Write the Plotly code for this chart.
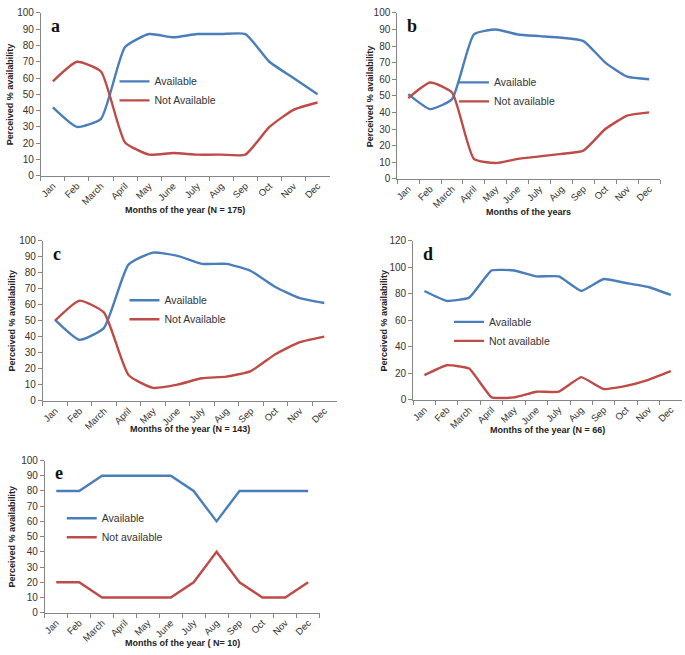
import plotly.graph_objects as go

months = ["Jan", "Feb", "March", "April", "May", "June", "July", "Aug", "Sep", "Oct", "Nov", "Dec"]

a_avail = [42, 30, 35, 79, 87, 85, 87, 87, 87, 70, 60, 50]
a_not = [58, 70, 64, 20.5, 13, 14, 13, 13, 13, 30, 40.5, 45]

b_avail = [51, 42, 48, 87, 90, 87, 86, 85, 83, 70, 61.5, 60]
b_not = [48.6, 58, 52, 12, 9.5, 12, 13.5, 15, 17, 30, 38, 40]

c_avail = [50.5, 38, 45.5, 85, 92.5, 90.5, 85.5, 85.5, 81, 71, 64, 61]
c_not = [50, 62.5, 55, 16, 8, 10, 14, 15, 18.5, 29, 36.5, 40]

d_avail = [82, 74.5, 77, 97.5, 97.5, 93, 93, 82, 91, 88, 85, 79]
d_not = [18.5, 26, 23.5, 1.7, 1.7, 6, 6, 17, 8, 10.4, 15, 21.5]

e_avail = [80, 80, 90, 90, 90, 90, 80, 60, 80, 80, 80, 80]
e_not = [20, 20, 10, 10, 10, 10, 20, 40, 20, 10, 10, 20]

W, H = 685, 655
BLUE = "#4a7ebb"
RED = "#be4b48"

panels = [
    dict(label="a", avail=a_avail, notv=a_not, names=("Available", "Not Available"),
         xt="Months of the year (N = 175)", ymax=100, dt=10,
         box=(38, 328, 7, 173), leg=(112, 62), shape="spline", sm=0.5, xtitle_y=208, ytitle_x=7),
    dict(label="b", avail=b_avail, notv=b_not, names=("Available", "Not available"),
         xt="Months of the years", ymax=100, dt=10,
         box=(396, 660, 7, 176), leg=(453, 63), shape="spline", sm=0.5, xtitle_y=210, ytitle_x=368),
    dict(label="c", avail=c_avail, notv=c_not, names=("Available", "Not Available"),
         xt="Months of the year (N = 143)", ymax=100, dt=10,
         box=(40, 335, 239, 402), leg=(122, 285), shape="spline", sm=0.5, xtitle_y=431, ytitle_x=9),
    dict(label="d", avail=d_avail, notv=d_not, names=("Available", "Not available"),
         xt="Months of the year (N = 66)", ymax=120, dt=20,
         box=(412, 682, 239, 401), leg=(448, 307), shape="spline", sm=0.35, xtitle_y=432, ytitle_x=383),
    dict(label="e", avail=e_avail, notv=e_not, names=("Available", "Not available"),
         xt="Months of the year ( N= 10)", ymax=100, dt=10,
         box=(42, 318, 463, 618), leg=(59, 507), shape="linear", sm=0, xtitle_y=649, ytitle_x=9),
]

fig = go.Figure()
layout = {}
annotations = []
FONT = "Liberation Sans, Arial, sans-serif"

for i, p in enumerate(panels):
    n = "" if i == 0 else str(i + 1)
    x0, x1, y0, y1 = p["box"]
    legname = "legend" + n
    for vals, nm, col in ((p["avail"], p["names"][0], BLUE), (p["notv"], p["names"][1], RED)):
        line = dict(color=col, width=2.4, shape=p["shape"])
        if p["shape"] == "spline":
            line["smoothing"] = p["sm"]
        fig.add_trace(go.Scatter(
            x=months, y=vals, name=nm, mode="lines", line=line,
            xaxis="x" + n, yaxis="y" + n, legend=legname, showlegend=True,
        ))
    layout["xaxis" + n] = dict(
        domain=[x0 / W, x1 / W], anchor="y" + n, type="category",
        range=[-0.5, 11.5], showline=True, linecolor="#868686", linewidth=1,
        ticks="outside", tickson="boundaries", ticklen=4, tickcolor="#868686",
        tickangle=-45, tickfont=dict(size=9.5, color="#333333", family=FONT),
        showgrid=False, zeroline=False, fixedrange=True,
    )
    layout["yaxis" + n] = dict(
        domain=[1 - y1 / H, 1 - y0 / H], anchor="x" + n,
        range=[0, p["ymax"]], dtick=p["dt"], showline=True, linecolor="#868686", linewidth=1,
        ticks="outside", ticklen=4, tickcolor="#868686",
        tickfont=dict(size=10, color="#333333", family=FONT),
        showgrid=False, zeroline=False, fixedrange=True,
    )
    lx, ly = p["leg"]
    layout[legname] = dict(
        x=lx / W, y=1 - ly / H, xanchor="left", yanchor="top",
        bgcolor="rgba(0,0,0,0)", font=dict(size=10.5, color="#333333", family=FONT),
        itemwidth=30, tracegroupgap=0,
    )
    annotations.append(dict(
        text="<b>" + p["xt"] + "</b>", x=(x0 + x1) / 2 / W, y=1 - p["xtitle_y"] / H,
        xref="paper", yref="paper", showarrow=False, xanchor="center", yanchor="middle",
        font=dict(size=9, color="#222222", family=FONT),
    ))
    annotations.append(dict(
        text="<b>Perceived % availability</b>", x=p["ytitle_x"] / W, y=1 - (y0 + y1) / 2 / H,
        xref="paper", yref="paper", showarrow=False, xanchor="center", yanchor="middle",
        textangle=-90, font=dict(size=9, color="#222222", family=FONT),
    ))
    annotations.append(dict(
        text="<b>" + p["label"] + "</b>", x=(x0 + 8) / W, y=1 - (y0 + 1) / H,
        xref="paper", yref="paper", showarrow=False, xanchor="left", yanchor="top",
        font=dict(size=18, color="#111111", family="Liberation Serif, Times New Roman, serif"),
    ))

fig.update_layout(
    width=W, height=H, margin=dict(l=0, r=0, t=0, b=0),
    paper_bgcolor="white", plot_bgcolor="white", hovermode=False,
    annotations=annotations, **layout,
)

fig.write_html(
    "out.html",
    config={"displayModeBar": False, "staticPlot": True},
    post_script="document.body.style.margin='0';document.body.style.overflow='hidden';",
)
